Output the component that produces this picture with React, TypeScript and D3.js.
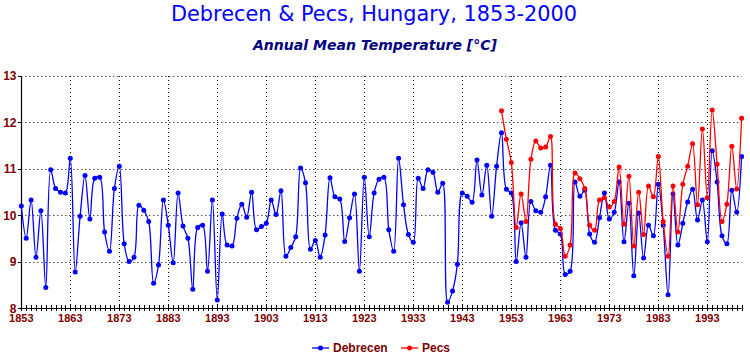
import React from "react";
import * as d3 from "d3";

const startYear = 1853;
const endYear = 2000;
const debrecen = [
  10.20, 9.51, 10.33, 9.10, 10.10, 8.45, 10.98, 10.58, 10.50, 10.48,
  11.23, 8.78, 9.98, 10.86, 9.92, 10.80, 10.82, 9.64, 9.23, 10.58,
  11.06, 9.39, 9.01, 9.10, 10.22, 10.11, 9.87, 8.54, 8.93, 10.33,
  9.79, 8.98, 10.48, 9.77, 9.51, 8.41, 9.74, 9.79, 8.80, 10.33,
  8.18, 10.03, 9.36, 9.34, 9.94, 10.24, 9.96, 10.50, 9.69, 9.76,
  9.83, 10.33, 10.02, 10.53, 9.12, 9.31, 9.54, 11.02, 10.70, 9.27,
  9.46, 9.10, 9.58, 10.81, 10.40, 10.35, 9.44, 9.95, 10.46, 8.80,
  10.82, 9.54, 10.48, 10.78, 10.82, 9.69, 9.23, 11.23, 10.23, 9.59,
  9.42, 10.80, 10.58, 10.98, 10.93, 10.50, 10.69, 8.13, 8.37, 8.95,
  10.48, 10.41, 10.28, 11.19, 10.44, 11.08, 9.98, 11.06, 11.78, 10.56,
  10.48, 9.01, 9.84, 9.10, 10.30, 10.10, 10.07, 10.40, 11.08, 9.68,
  9.60, 8.73, 8.80, 10.72, 10.41, 10.54, 9.60, 9.42, 9.95, 10.48,
  9.92, 10.07, 10.72, 9.43, 10.26, 8.70, 10.05, 9.08, 9.79, 9.56,
  10.67, 9.79, 8.29, 10.46, 9.36, 9.83, 10.29, 10.56, 9.90, 10.33,
  9.43, 11.39, 10.72, 9.56, 9.39, 10.54, 10.07, 11.27,
];
const pecsStart = 1951;
const pecs = [
  12.25, 11.64, 11.14, 9.74, 10.46, 9.87, 11.21, 11.60, 11.45, 11.47,
  11.70, 9.81, 9.72, 9.12, 9.36, 10.91, 10.79, 10.58, 9.79, 9.68,
  10.33, 10.38, 10.18, 10.30, 11.04, 9.81, 10.84, 9.34, 10.50, 9.59,
  10.63, 10.40, 11.27, 9.87, 9.12, 10.63, 9.64, 10.67, 11.06, 11.54,
  10.23, 11.86, 10.38, 12.27, 11.10, 9.87, 10.24, 11.49, 10.57, 12.09,
];
const yTicks = [8, 9, 10, 11, 12, 13];
const xLabelYears = [1853, 1863, 1873, 1883, 1893, 1903, 1913, 1923, 1933, 1943, 1953, 1963, 1973, 1983, 1993];
const seriesNames = ["Debrecen", "Pecs"];
const seriesColors = ["#0000FF", "#FF0000"];
const title = "Debrecen & Pecs, Hungary, 1853-2000";
const subtitle = "Annual Mean Temperature [°C]";

export default function App() {
  const x = d3.scaleLinear().domain([startYear, endYear]).range([21.3, 741.6]);
  const y = d3.scaleLinear().domain([8, 13]).range([308.3, 76]);
  const deb = debrecen.map((v, i) => ({ year: startYear + i, v }));
  const pec = pecs.map((v, i) => ({ year: pecsStart + i, v }));
  const line = d3
    .line<{ year: number; v: number }>()
    .x((d) => x(d.year))
    .y((d) => y(d.v))
    .curve(d3.curveCatmullRom.alpha(0.5));
  const years = d3.range(startYear, endYear + 1);
  const labelColor = "#800000";
  const series = [deb, pec];
  const legendX = [312, 401];

  return (
    <svg
      width={750}
      height={356}
      style={{ position: "absolute", left: 0, top: 0, background: "#fff" }}
    >
      <rect x={0} y={0} width={750} height={356} fill="#fff" />
      <text
        x={171}
        y={21}
        fill="#0000FF"
        fontFamily="DejaVu Sans, sans-serif"
        fontSize={21}
        textLength={406}
        lengthAdjust="spacingAndGlyphs"
      >
        {title}
      </text>
      <text
        x={253}
        y={49.5}
        fill="#000080"
        fontFamily="DejaVu Sans, sans-serif"
        fontWeight="bold"
        fontStyle="italic"
        fontSize={14}
        textLength={244}
        lengthAdjust="spacingAndGlyphs"
      >
        {subtitle}
      </text>

      {/* grid */}
      {yTicks
        .filter((t) => t > 8)
        .map((t) => (
          <line
            key={"gy" + t}
            x1={x(startYear)}
            x2={x(endYear)}
            y1={Math.round(y(t)) + 0.5}
            y2={Math.round(y(t)) + 0.5}
            stroke="#000"
            strokeDasharray="1 3"
          />
        ))}
      {xLabelYears
        .filter((yr) => yr > startYear)
        .map((yr) => (
          <line
            key={"gx" + yr}
            x1={Math.round(x(yr)) + 0.5}
            x2={Math.round(x(yr)) + 0.5}
            y1={y(13)}
            y2={y(8)}
            stroke="#000"
            strokeDasharray="1 3"
          />
        ))}

      {/* axes */}
      <line x1={21.5} x2={21.5} y1={y(13)} y2={y(8)} stroke="#000" strokeWidth={1.2} />
      <line x1={21} x2={x(endYear)} y1={308.5} y2={308.5} stroke="#000" strokeWidth={1.2} />
      {years.map((yr) => (
        <line
          key={"tx" + yr}
          x1={Math.round(x(yr)) + 0.5}
          x2={Math.round(x(yr)) + 0.5}
          y1={305}
          y2={311}
          stroke="#000"
        />
      ))}
      {yTicks.map((t) => (
        <g key={"ty" + t}>
          <line x1={18} x2={21.5} y1={Math.round(y(t)) + 0.5} y2={Math.round(y(t)) + 0.5} stroke="#000" />
          <text
            x={16.5}
            y={y(t) + 4.3}
            textAnchor="end"
            fill={labelColor}
            fontFamily="Liberation Sans, Arial, sans-serif"
            fontWeight="bold"
            fontSize={12}
          >
            {t}
          </text>
        </g>
      ))}
      {xLabelYears.map((yr) => (
        <text
          key={"lx" + yr}
          x={x(yr)}
          y={322}
          textAnchor="middle"
          fill={labelColor}
          fontFamily="Liberation Sans, Arial, sans-serif"
          fontWeight="bold"
          fontSize={11}
        >
          {yr}
        </text>
      ))}

      {/* series */}
      {series.map((data, si) => (
        <g key={"s" + si}>
          <path d={line(data) || ""} fill="none" stroke={seriesColors[si]} strokeWidth={1.3} />
          {data.map((d) => (
            <circle key={d.year} cx={x(d.year)} cy={y(d.v)} r={2.5} fill={seriesColors[si]} />
          ))}
        </g>
      ))}

      {/* legend */}
      {seriesNames.map((name, i) => (
        <g key={"lg" + name}>
          <line x1={legendX[i]} x2={legendX[i] + 17} y1={348} y2={348} stroke={seriesColors[i]} strokeWidth={1.3} />
          <circle cx={legendX[i] + 8.5} cy={348} r={2.5} fill={seriesColors[i]} />
          <text
            x={legendX[i] + 21}
            y={352}
            fill={labelColor}
            fontFamily="Liberation Sans, Arial, sans-serif"
            fontWeight="bold"
            fontSize={12}
          >
            {name}
          </text>
        </g>
      ))}
    </svg>
  );
}
